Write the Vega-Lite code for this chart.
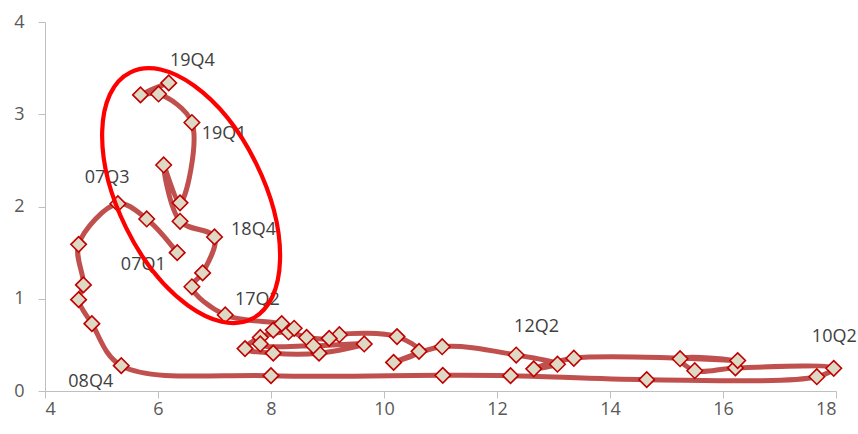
{
  "$schema": "https://vega.github.io/schema/vega-lite/v6.json",
  "width": 791,
  "height": 369,
  "autosize": {"type": "none"},
  "padding": {"left": 45, "top": 22, "right": 22, "bottom": 43},
  "background": "white",
  "config": {
    "view": {"stroke": null},
    "axis": {
      "grid": false,
      "domainColor": "#BFBFBF",
      "tickColor": "#BFBFBF",
      "tickSize": 7,
      "labelColor": "#595959",
      "labelFont": "Open Sans",
      "labelFontSize": 18,
      "labelFontWeight": "normal",
      "format": "d",
      "title": null
    }
  },
  "datasets": {
    "path": [
      {"i": 1, "x": 6.34, "y": 1.50},
      {"i": 2, "x": 5.80, "y": 1.865},
      {"i": 3, "x": 5.29, "y": 2.03},
      {"i": 4, "x": 4.595, "y": 1.59},
      {"i": 5, "x": 4.68, "y": 1.15},
      {"i": 6, "x": 4.595, "y": 0.99},
      {"i": 7, "x": 4.83, "y": 0.73},
      {"i": 8, "x": 5.35, "y": 0.275},
      {"i": 9, "x": 8.0, "y": 0.166},
      {"i": 10, "x": 11.04, "y": 0.17},
      {"i": 11, "x": 12.24, "y": 0.166},
      {"i": 12, "x": 14.65, "y": 0.123},
      {"i": 13, "x": 17.66, "y": 0.155},
      {"i": 14, "x": 17.96, "y": 0.246},
      {"i": 15, "x": 16.22, "y": 0.25},
      {"i": 16, "x": 15.5, "y": 0.22},
      {"i": 17, "x": 15.24, "y": 0.35},
      {"i": 18, "x": 16.26, "y": 0.33},
      {"i": 19, "x": 13.36, "y": 0.355},
      {"i": 20, "x": 12.65, "y": 0.24},
      {"i": 21, "x": 13.07, "y": 0.29},
      {"i": 22, "x": 12.34, "y": 0.39},
      {"i": 23, "x": 11.03, "y": 0.48},
      {"i": 24, "x": 10.17, "y": 0.31},
      {"i": 25, "x": 10.62, "y": 0.43},
      {"i": 26, "x": 10.23, "y": 0.59},
      {"i": 27, "x": 9.21, "y": 0.61},
      {"i": 28, "x": 9.03, "y": 0.57},
      {"i": 29, "x": 8.63, "y": 0.58},
      {"i": 30, "x": 8.31, "y": 0.64},
      {"i": 31, "x": 7.81, "y": 0.58},
      {"i": 32, "x": 7.54, "y": 0.46},
      {"i": 33, "x": 8.04, "y": 0.41},
      {"i": 34, "x": 8.85, "y": 0.41},
      {"i": 35, "x": 9.65, "y": 0.51},
      {"i": 36, "x": 8.75, "y": 0.49},
      {"i": 37, "x": 7.81, "y": 0.51},
      {"i": 38, "x": 8.04, "y": 0.66},
      {"i": 39, "x": 8.41, "y": 0.68},
      {"i": 40, "x": 8.19, "y": 0.73},
      {"i": 41, "x": 7.19, "y": 0.824},
      {"i": 42, "x": 6.60, "y": 1.13},
      {"i": 43, "x": 6.79, "y": 1.28},
      {"i": 44, "x": 7.0, "y": 1.67},
      {"i": 45, "x": 6.39, "y": 1.84},
      {"i": 46, "x": 6.10, "y": 2.45},
      {"i": 47, "x": 6.39, "y": 2.04},
      {"i": 48, "x": 6.60, "y": 2.91},
      {"i": 49, "x": 6.01, "y": 3.22},
      {"i": 50, "x": 5.69, "y": 3.21},
      {"i": 51, "x": 6.19, "y": 3.34}
    ],
    "labels": [
      {"t": "19Q4", "x": 6.61, "y": 3.58},
      {"t": "19Q1", "x": 7.17, "y": 2.79},
      {"t": "07Q3", "x": 5.10, "y": 2.31},
      {"t": "18Q4", "x": 7.69, "y": 1.75},
      {"t": "07Q1", "x": 5.74, "y": 1.37},
      {"t": "17Q2", "x": 7.76, "y": 0.99},
      {"t": "08Q4", "x": 4.81, "y": 0.10},
      {"t": "12Q2", "x": 12.70, "y": 0.69},
      {"t": "10Q2", "x": 17.97, "y": 0.59}
    ],
    "ellipse": [
      {"x": 6.586, "y": 2.118}
    ]
  },
  "layer": [
    {
      "data": {"name": "path"},
      "mark": {"type": "line", "interpolate": "catmull-rom", "color": "#C0504D", "strokeWidth": 5, "strokeCap": "round", "strokeJoin": "round"},
      "encoding": {
        "x": {"field": "x", "type": "quantitative", "scale": {"domain": [4, 18], "nice": false, "zero": false},
              "axis": {"values": [4, 6, 8, 10, 12, 14, 16, 18], "labelPadding": 2}},
        "y": {"field": "y", "type": "quantitative", "scale": {"domain": [0, 4], "nice": false, "zero": false},
              "axis": {"values": [0, 1, 2, 3, 4], "labelPadding": 14}},
        "order": {"field": "i", "type": "quantitative"}
      }
    },
    {
      "data": {"name": "path"},
      "mark": {"type": "point", "shape": "diamond", "filled": true, "fill": "#DDD9C4", "stroke": "#C00000", "strokeWidth": 1.6, "size": 240, "opacity": 1},
      "encoding": {
        "x": {"field": "x", "type": "quantitative"},
        "y": {"field": "y", "type": "quantitative"}
      }
    },
    {
      "data": {"name": "labels"},
      "mark": {"type": "text", "font": "Open Sans", "fontSize": 18, "color": "#404040", "align": "center", "baseline": "middle"},
      "encoding": {
        "x": {"field": "x", "type": "quantitative"},
        "y": {"field": "y", "type": "quantitative"},
        "text": {"field": "t", "type": "nominal"}
      }
    },
    {
      "data": {"name": "ellipse"},
      "mark": {
        "type": "point",
        "shape": "M 1 0 C 1 0.2916 0.5523 0.528 0 0.528 C -0.5523 0.528 -1 0.2916 -1 0 C -1 -0.2916 -0.5523 -0.528 0 -0.528 C 0.5523 -0.528 1 -0.2916 1 0 Z",
        "filled": false,
        "stroke": "#FF0000",
        "strokeWidth": 4.2,
        "size": 75515,
        "angle": 63.8,
        "opacity": 1
      },
      "encoding": {
        "x": {"field": "x", "type": "quantitative"},
        "y": {"field": "y", "type": "quantitative"}
      }
    }
  ]
}
